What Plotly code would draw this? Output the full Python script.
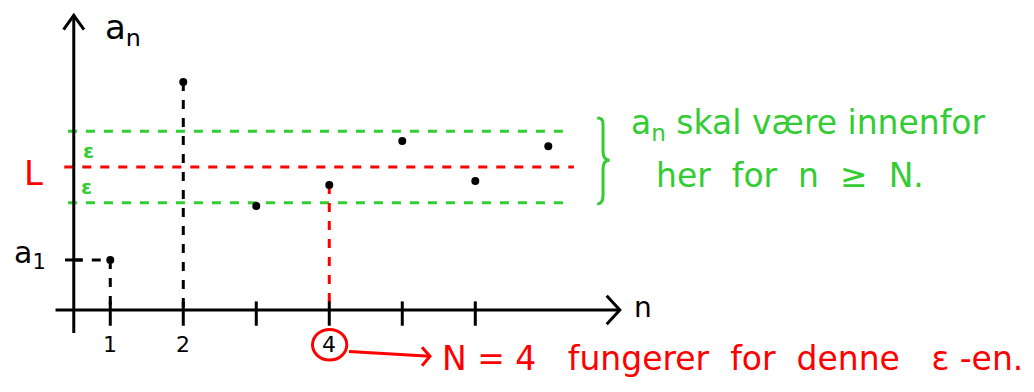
import plotly.graph_objects as go

# ---- data ----
n_values = [1, 2, 3, 4, 5, 6, 7]
a_values = [1.75, 7.97, 3.64, 4.37, 5.91, 4.51, 5.73]
L = 5.0
eps = 1.25
N = 4
tick_ns = [1, 2, 3, 4, 5, 6]
tick_labels = {1: "1", 2: "2", 4: "4"}

BLACK = "#000000"
RED = "#ff0000"
GREEN = "#33cc33"
FONT = "DejaVu Sans"

fig = go.Figure()

def seg(xs, ys, color, dash="solid", width=3):
    fig.add_trace(go.Scatter(x=xs, y=ys, mode="lines",
                             line=dict(color=color, width=width, dash=dash), hoverinfo="skip"))

# band lines
x_lo, x_hi = 0.42, 7.25
seg([x_lo, x_hi], [L + eps, L + eps], GREEN, "dash")
seg([x_lo - 0.05, x_hi + 0.1], [L, L], RED, "dash")
seg([x_lo, x_hi], [L - eps, L - eps], GREEN, "dash")

y_axis_x = 0.5

# dashed guides
seg([y_axis_x, n_values[0]], [a_values[0], a_values[0]], BLACK, "dash")
seg([n_values[0], n_values[0]], [a_values[0], 0], BLACK, "dash")
seg([n_values[1], n_values[1]], [a_values[1], 0], BLACK, "dash")
seg([N, N], [a_values[N - 1], 0], RED, "dash")

# axes
seg([0.25, 7.98], [0, 0], BLACK)
seg([y_axis_x, y_axis_x], [-0.8, 10.3], BLACK)
seg([y_axis_x - 0.14, y_axis_x, y_axis_x + 0.14], [9.8, 10.3, 9.8], BLACK)
seg([7.8, 7.98, 7.8], [0.5, 0, -0.5], BLACK)
for t in tick_ns:
    seg([t, t], [0.3, -0.55], BLACK)
seg([y_axis_x - 0.12, y_axis_x + 0.12], [a_values[0], a_values[0]], BLACK)

# points
fig.add_trace(go.Scatter(x=n_values, y=a_values, mode="markers",
                         marker=dict(color=BLACK, size=8), hoverinfo="skip"))

# red circle around N and arrow
fig.add_shape(type="circle", xref="x", yref="y", x0=N - 0.23, x1=N + 0.24, y0=-1.75, y1=-0.68,
              line=dict(color=RED, width=3))
seg([N + 0.27, N + 1.38], [-1.45, -1.62], RED)
seg([N + 1.27, N + 1.38, N + 1.27], [-1.3, -1.62, -1.95], RED)

# green brace
bx0, bx1, bx2 = 7.67, 7.75, 7.84
bt, bm, bb = L + 1.71, L + 0.24, L - 1.29
brace = (f"M {bx0},{bt} C {bx1},{bt} {bx1},{bt-0.1} {bx1},{bt-0.3} "
         f"L {bx1},{bm+0.3} C {bx1},{bm+0.1} {bx1+0.03},{bm} {bx2},{bm} "
         f"C {bx1+0.03},{bm} {bx1},{bm-0.1} {bx1},{bm-0.3} "
         f"L {bx1},{bb+0.3} C {bx1},{bb+0.1} {bx1-0.02},{bb} {bx0},{bb}")
fig.add_shape(type="path", xref="x", yref="y", path=brace, line=dict(color=GREEN, width=3))

ann = []
def txt(x, y, s, color, size, xanchor="center", bold=False):
    ann.append(dict(x=x, y=y, xref="x", yref="y", text=f"<b>{s}</b>" if bold else s, showarrow=False,
                    font=dict(family=FONT, size=size, color=color), xanchor=xanchor, yanchor="middle"))

txt(1.18, 9.8, "a<sub>n</sub>", BLACK, 34)
txt(8.3, 0.1, "n", BLACK, 28)
txt(-0.05, 4.8, "L", RED, 34)
txt(0.7, 5.55, "ε", GREEN, 20, bold=True)
txt(0.68, 4.3, "ε", GREEN, 20, bold=True)
txt(-0.1, 1.95, "a<sub>1</sub>", BLACK, 30)
for t, s in tick_labels.items():
    txt(t, -1.2, s, BLACK, 22)
txt(8.1, 6.5, "a<sub>n</sub> skal være innenfor", GREEN, 33, "left")
txt(8.45, 4.7, "her  for  n  ≥  N.", GREEN, 33, "left")
txt(5.52, -1.68, "N = 4   fungerer  for  denne   ε -en.", RED, 33, "left")
fig.update_layout(annotations=ann)

fig.update_layout(
    width=1034, height=392,
    margin=dict(l=0, r=0, t=0, b=0),
    paper_bgcolor="white", plot_bgcolor="white",
    showlegend=False,
    xaxis=dict(range=[-0.401, 13.763], visible=False, fixedrange=True),
    yaxis=dict(range=[-3.147, 10.56], visible=False, fixedrange=True),
)

fig.write_html("out.html")
